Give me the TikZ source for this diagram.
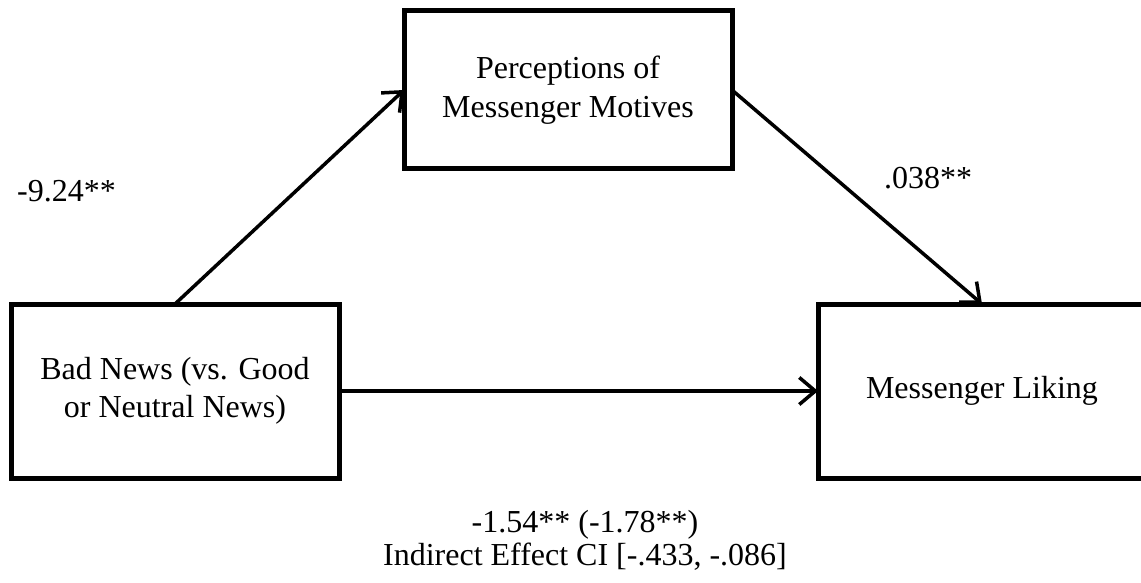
\documentclass[tikz,border=0pt]{standalone}
\usepackage{fontspec}
\setmainfont{Liberation Serif}
\usetikzlibrary{arrows.meta,positioning}

\begin{document}
\begin{tikzpicture}[x=1pt,y=1pt,
    varbox/.style={draw, line width=5pt, minimum width=328pt, inner sep=0pt, outer sep=0pt,
        align=center, font=\fontsize{32}{38.5}\selectfont},
    effect/.style={line width=3.5pt, -{Straight Barb[length=16pt,width=27pt]}},
    coef/.style={inner sep=0pt, font=\fontsize{32}{33}\selectfont}]
    \useasboundingbox (0,0) rectangle (1141,582);

    % Variables
    \node[varbox, minimum height=174pt] (bad) at (175,191) {Bad News (vs. Good\\or Neutral News)};
    \node[varbox, minimum height=158pt] (motive) at (568,492) {Perceptions of\\Messenger Motives};
    \node[varbox, minimum height=174pt] (liking) at (982,191) {Messenger Liking};

    % Paths
    \draw[effect] (bad.north) -- (motive.west);
    \draw[effect] (motive.east) -- (liking.north);
    \draw[effect] (bad.east) -- (liking.west);

    % Coefficients
    \node[coef, anchor=base west] (apath) at (17,380) {-9.24**};
    \node[coef, anchor=base west] (bpath) at (884,393) {.038**};
    \node[coef, anchor=base, align=center] (cpath) at (585,17) {-1.54** (-1.78**)\\Indirect Effect CI [-.433, -.086]};
\end{tikzpicture}
\end{document}
